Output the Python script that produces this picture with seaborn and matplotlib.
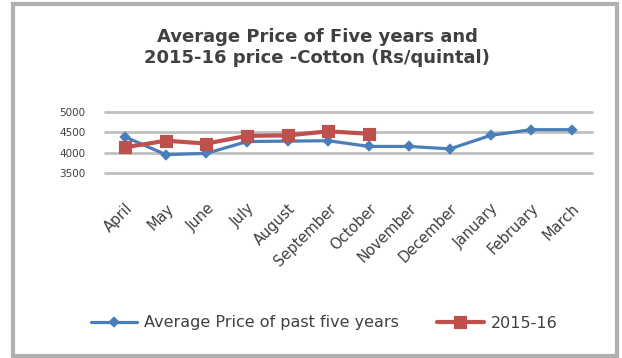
import matplotlib
matplotlib.use("Agg")
import matplotlib.pyplot as plt
import seaborn as sns
import pandas as pd
from matplotlib.patches import Rectangle

months = ["April", "May", "June", "July", "August", "September", "October",
          "November", "December", "January", "February", "March"]
avg_five_years = [4380, 3950, 3980, 4270, 4280, 4290, 4150, 4150, 4090, 4420, 4560, 4560]
months_2015 = months[:7]
price_2015 = [4130, 4290, 4220, 4410, 4420, 4520, 4460]
y_ticks = [3500, 4000, 4500, 5000]

title_lines = ["Average Price of Five years and", "2015-16 price -Cotton (Rs/quintal)"]
series_names = ["Average Price of past five years", "2015-16"]

blue = "#4a7ebb"
red = "#c0504d"
text_col = "#404040"

sns.set_theme(style="white")
plt.rcParams["font.family"] = ["DejaVu Sans"]

fig = plt.figure(figsize=(6.22, 3.58), dpi=100)
ax = fig.add_axes([105 / 622, 1 - 173 / 358, 487 / 622, 61.3 / 358])

df_avg = pd.DataFrame({"month": months, "price": avg_five_years})
df_cur = pd.DataFrame({"month": months_2015, "price": price_2015})

sns.pointplot(data=df_avg, x="month", y="price", order=months, color=blue,
              markers="D", errorbar=None, linewidth=2.3, markersize=4.5,
              label=series_names[0], ax=ax, zorder=3)
sns.pointplot(data=df_cur, x="month", y="price", order=months, color=red,
              markers="s", errorbar=None, linewidth=3, markersize=6.5,
              label=series_names[1], ax=ax, zorder=4)
if ax.get_legend() is not None:
    ax.get_legend().remove()

ax.set_ylim(3500, 5000)
ax.set_xlim(-0.5, len(months) - 0.5)
ax.set_yticks(y_ticks)
ax.set_yticklabels([str(v) for v in y_ticks])
ax.set_xlabel("")
ax.set_ylabel("")
ax.grid(axis="y", color="#c0c0c0", linewidth=2)
for gl in ax.get_ygridlines():
    gl.set_clip_on(False)
ax.set_axisbelow(True)
for s in ax.spines.values():
    s.set_visible(False)
ax.tick_params(axis="y", length=0, pad=14, labelsize=7.5, labelcolor=text_col)
ax.tick_params(axis="x", length=0, pad=20, labelsize=10.5, labelcolor=text_col)
for lab in ax.get_xticklabels():
    lab.set_rotation(45)
    lab.set_ha("right")
    lab.set_rotation_mode("anchor")

handles, labels = ax.get_legend_handles_labels()
fig.legend(handles, labels, loc="center", bbox_to_anchor=(324 / 622, 1 - 323 / 358),
           ncol=2, frameon=False, fontsize=11.5, handlelength=2.9, handletextpad=0.45,
           columnspacing=2.4, labelcolor=text_col)

fig.text(317 / 622, 1 - 37 / 358, title_lines[0], ha="center", va="center",
         fontsize=13, fontweight="bold", color=text_col)
fig.text(317 / 622, 1 - 58 / 358, title_lines[1], ha="center", va="center",
         fontsize=13, fontweight="bold", color=text_col)

fig.patches.append(Rectangle((13 / 622, 2 / 358), 604 / 622, 352 / 358,
                             transform=fig.transFigure, fill=False,
                             edgecolor="#b0b0b0", linewidth=3))

fig.savefig("out.png", dpi=100)
